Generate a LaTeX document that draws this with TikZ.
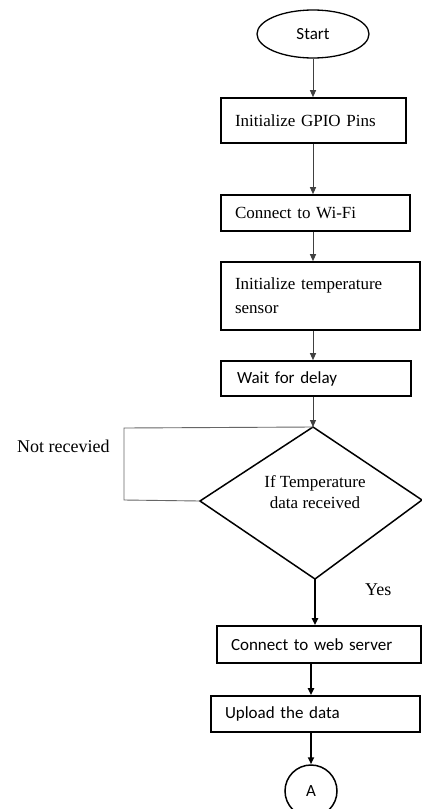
\documentclass[tikz,border=0pt]{standalone}
\usepackage{fontspec}
\setmainfont{Liberation Serif}
\newfontfamily\calfont{Carlito}
\usetikzlibrary{arrows.meta,shapes.geometric}
\begin{document}
\begin{tikzpicture}[x=1pt,y=-1pt,
  box/.style={draw, line width=1.6pt, rectangle, inner xsep=14pt, inner ysep=0pt, align=left, font=\fontsize{17}{24}\selectfont},
  sbox/.style={box, font=\calfont\fontsize{17}{24}\selectfont},
  arr/.style={-{Triangle[length=7pt,width=6pt]}, line width=1pt, draw=black!75},
  barr/.style={-{Triangle[length=7pt,width=6pt]}, line width=1.8pt},
  thin/.style={draw=black!60, line width=0.9pt},
  lbl/.style={font=\fontsize{18}{21}\selectfont, inner sep=0pt}
]
\useasboundingbox (0,0) rectangle (422,809);
\fill[white] (0,0) rectangle (422,809);

\node[draw, ellipse, line width=1.3pt, minimum width=112pt, minimum height=48pt, inner sep=0pt, font=\calfont\fontsize{17}{20}\selectfont] (start) at (313,34) {Start};

\node[box, minimum height=45pt, text width=157pt] (gpio) at (313.5,120.5) {Initialize GPIO Pins};
\node[box, minimum height=36pt, text width=161pt] (wifi) at (315.5,213) {Connect to Wi-Fi};
\node[box, minimum height=68pt, text width=171pt] (temp) at (320.5,296) {Initialize temperature\\sensor};
\node[sbox, inner xsep=16pt, minimum height=35pt, text width=158pt] (wait) at (316,378.5) {Wait for delay};

\coordinate (dt) at (313,427);
\coordinate (dl) at (200,501);
\coordinate (dr) at (422,500);
\coordinate (db) at (315,579);
\draw[line width=1.5pt, line join=miter] (dt) -- (dr) -- (db) -- (dl) -- cycle;
\node[align=center, font=\fontsize{17}{21}\selectfont, inner sep=0pt] (dec) at (315,492) {If Temperature\\data received};

\node[sbox, minimum height=37pt, text width=176pt] (web) at (319,644.5) {Connect to web server};
\node[sbox, minimum height=36pt, text width=181pt] (up) at (315.5,714) {Upload the data};
\node[draw, circle, line width=1.5pt, minimum size=52pt, inner sep=0pt, font=\calfont\fontsize{17}{20}\selectfont] (A) at (311,791) {A};

\coordinate (loopa) at (124,500);
\coordinate (loopb) at (124,428);
\node[lbl, anchor=west] (nr) at (17,446) {Not recevied};
\node[lbl, anchor=west] (yes) at (365,590) {Yes};

\draw[arr] (start.south -| dt) -- (gpio.north -| dt);
\draw[arr] (gpio.south -| dt) -- (wifi.north -| dt);
\draw[arr] (wifi.south -| dt) -- (temp.north -| dt);
\draw[arr] (temp.south -| dt) -- (wait.north -| dt);
\draw[arr] (wait.south -| dt) -- (dt);
\draw[thin] (dl) -- (loopa) -- (loopb) -- (dt);
\draw[barr] (db) -- (web.north -| db);
\draw[barr] (web.south -| A.north) -- (up.north -| A.north);
\draw[barr] (up.south -| A.north) -- (A.north);
\end{tikzpicture}
\end{document}
